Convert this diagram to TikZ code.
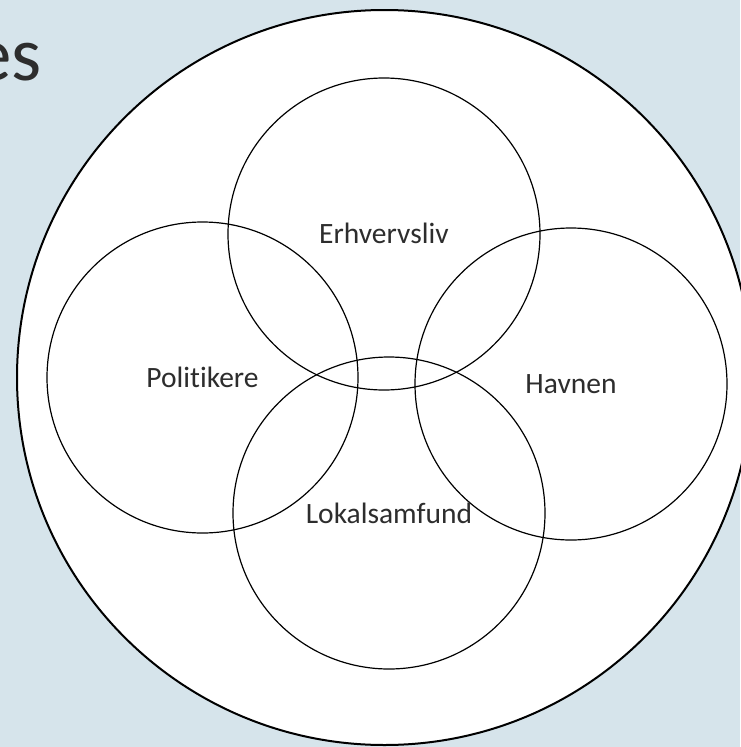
\documentclass[tikz,border=0pt]{standalone}
\usepackage{fontspec}
\setmainfont{Carlito}[Ligatures=NoCommon]
\definecolor{bgc}{RGB}{214,228,235}
\definecolor{txt}{RGB}{45,45,45}
\begin{document}
\begin{tikzpicture}[x=1pt,y=-1pt,
  ring/.style={draw=black,line width=1.2pt},
  lab/.style={font=\fontsize{29.5}{34}\selectfont,text=txt,inner sep=0pt,anchor=base}]
\useasboundingbox (0,0) rectangle (740,747);
\fill[bgc] (0,0) rectangle (740,747);
\draw[fill=white,line width=2pt] (384.5,377.5) circle[radius=367.5];
\node[lab,font=\fontsize{77}{90}\selectfont,anchor=base east] (title) at (42,80) {es};
\draw[ring] (384,234) circle[radius=156];
\draw[ring] (202.5,377.5) circle[radius=155.5];
\draw[ring] (571,384) circle[radius=156];
\draw[ring] (389,513) circle[radius=156];
\node[lab] (erh) at (384,243) {Erhvervsliv};
\node[lab] (pol) at (202.5,387) {Politikere};
\node[lab] (hav) at (571,393) {Havnen};
\node[lab] (lok) at (389,523) {Lokalsamfund};
\end{tikzpicture}
\end{document}
